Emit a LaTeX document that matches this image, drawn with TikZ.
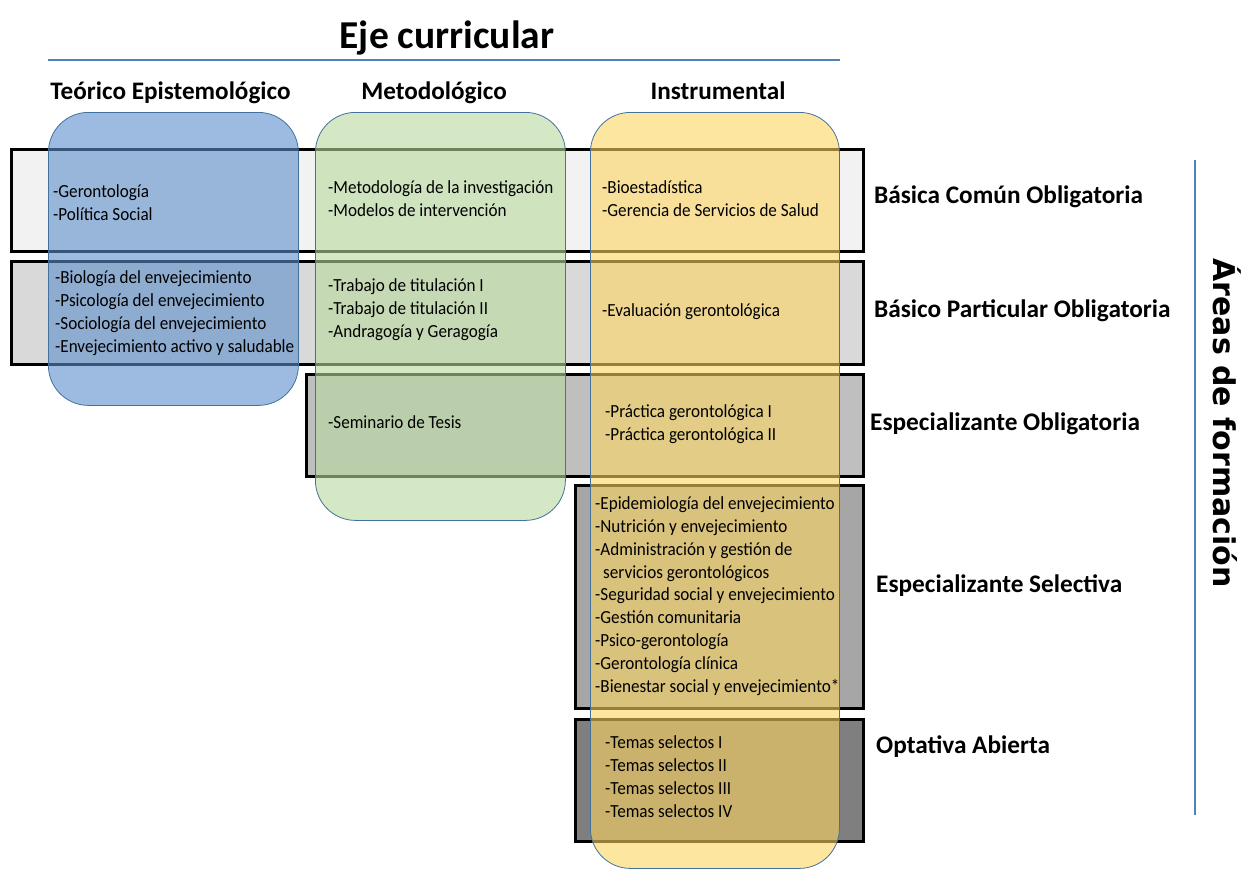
\documentclass[tikz,border=0pt]{standalone}
\usepackage{fontspec}
\setmainfont{Carlito}
\newfontfamily\materiafont{Carlito}[FakeStretch=0.925]
\newfontfamily\areasfont{DejaVu Sans}

\definecolor{ejeblue}{HTML}{4F81BD}
\definecolor{teoblue}{HTML}{5C8ECB}
\definecolor{metgreen}{HTML}{B9D99E}
\definecolor{insyellow}{HTML}{FCD561}
\definecolor{colline}{HTML}{41719C}
\definecolor{gray1}{HTML}{F2F2F2}
\definecolor{gray2}{HTML}{D9D9D9}
\definecolor{gray3}{HTML}{BFBFBF}
\definecolor{gray4}{HTML}{A6A6A6}
\definecolor{gray5}{HTML}{7F7F7F}

\tikzset{
    areabox/.style={rectangle, draw=black, line width=2.5pt, anchor=north west, inner sep=0pt},
    ejebox/.style={rectangle, rounded corners=40pt, draw=colline, line width=0.8pt, fill opacity=0.6, anchor=north west, inner sep=0pt},
    materia/.style={anchor=base west, align=left, inner sep=0pt, font=\materiafont\fontsize{18.5}{22.8}\selectfont},
    areatitle/.style={anchor=base west, inner sep=0pt, font=\bfseries\fontsize{25.3}{28}\selectfont},
    ejetitle/.style={anchor=base, inner sep=0pt, font=\bfseries\fontsize{25.2}{28}\selectfont}
}

\begin{document}
\begin{tikzpicture}[x=1pt, y=-1pt]
    \useasboundingbox (0,0) rectangle (1258,870);

    % areas de formacion
    \node[areabox, fill=gray1, minimum width=852pt, minimum height=102pt] (rowBasica) at (10,148) {};
    \node[areabox, fill=gray2, minimum width=852pt, minimum height=103pt] (rowParticular) at (10,260) {};
    \node[areabox, fill=gray3, minimum width=557pt, minimum height=102pt] (rowEspOblig) at (305,373) {};
    \node[areabox, fill=gray4, minimum width=288pt, minimum height=223pt] (rowEspSel) at (574,484) {};
    \node[areabox, fill=gray5, minimum width=288pt, minimum height=122pt] (rowOptativa) at (574,718) {};

    % ejes
    \node[ejebox, fill=teoblue, minimum width=250pt, minimum height=293pt] (colTeorico) at (48,112) {};
    \node[ejebox, fill=metgreen, minimum width=250pt, minimum height=408pt] (colMetodo) at (315,112) {};
    \node[ejebox, fill=insyellow, minimum width=249pt, minimum height=756pt] (colInstru) at (590,112) {};

    % titulos
    \node[anchor=base, inner sep=0pt, font=\bfseries\fontsize{39.5}{42}\selectfont] (ejeTitle) at (447,48) {Eje curricular};
    \draw[ejeblue, line width=2pt] (48,60) coordinate (ejeL) -- (840,60) coordinate (ejeR);
    \node[ejetitle] (hTeorico) at (170.5,99) {Teórico Epistemológico};
    \node[ejetitle] (hMetodo) at (434,99) {Metodológico};
    \node[ejetitle] (hInstru) at (718,99) {Instrumental};

    \node[areatitle] (lBasica) at (874,203) {Básica Común Obligatoria};
    \node[areatitle] (lParticular) at (874,317) {Básico Particular Obligatoria};
    \node[areatitle] (lEspOblig) at (870,430) {Especializante Obligatoria};
    \node[areatitle] (lEspSel) at (876,592) {Especializante Selectiva};
    \node[areatitle] (lOptativa) at (876,753) {Optativa Abierta};

    \draw[ejeblue, line width=2pt] (1195,160) coordinate (areasT) -- (1195,815) coordinate (areasB);
    \node[inner sep=0pt, rotate=-90, font=\areasfont\bfseries\fontsize{30}{32}\selectfont] (areasTitle) at (1227,423) {Áreas de formación};

    % materias (anchor on the last line)
    \node[materia] (mBasTeo) at (53,220) {-Gerontología\\-Política Social};
    \node[materia] (mBasMet) at (328,216) {-Metodología de la investigación\\-Modelos de intervención};
    \node[materia] (mBasIns) at (602,216) {-Bioestadística\\-Gerencia de Servicios de Salud};

    \node[materia] (mParTeo) at (55,352) {-Biología del envejecimiento\\-Psicología del envejecimiento\\-Sociología del envejecimiento\\-Envejecimiento activo y saludable};
    \node[materia] (mParMet) at (328,337) {-Trabajo de titulación I\\-Trabajo de titulación II\\-Andragogía y Geragogía};
    \node[materia] (mParIns) at (602,316) {-Evaluación gerontológica};

    \node[materia] (mEspMet) at (328,428) {-Seminario de Tesis};
    \node[materia] (mEspIns) at (605,440) {-Práctica gerontológica I\\-Práctica gerontológica II};

    \node[materia] (mSelIns) at (595,692) {-Epidemiología del envejecimiento\\-Nutrición y envejecimiento\\-Administración y gestión de\\\hspace{8pt}servicios gerontológicos\\-Seguridad social y envejecimiento\\-Gestión comunitaria\\-Psico-gerontología\\-Gerontología clínica\\-Bienestar social y envejecimiento*};

    \node[materia] (mOptIns) at (605,817) {-Temas selectos I\\-Temas selectos II\\-Temas selectos III\\-Temas selectos IV};
\end{tikzpicture}
\end{document}
